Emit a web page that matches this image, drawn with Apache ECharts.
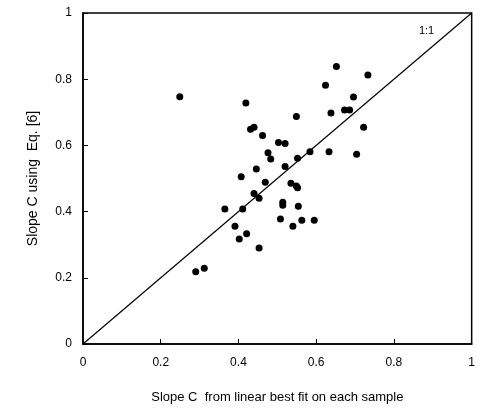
<!DOCTYPE html>
<html>
<head>
<meta charset="utf-8">
<script src="https://cdn.jsdelivr.net/npm/echarts@6/dist/echarts.min.js"></script>
<style>html,body{margin:0;padding:0;background:#fff;}#c{width:478px;height:417px;}</style>
</head>
<body>
<div id="c"></div>
<script>
const xValues = [0.249,0.419,0.431,0.440,0.462,0.476,0.652,0.733,0.624,0.696,0.638,0.673,0.686,0.549,0.722,0.503,0.520,0.483,0.552,0.584,0.633,0.704,0.446,0.407,0.469,0.440,0.453,0.365,0.411,0.391,0.421,0.402,0.453,0.520,0.535,0.549,0.552,0.514,0.514,0.554,0.508,0.563,0.595,0.540,0.290,0.312];
const yValues = [0.747,0.728,0.649,0.655,0.630,0.578,0.838,0.813,0.782,0.746,0.698,0.707,0.707,0.687,0.655,0.609,0.606,0.559,0.561,0.581,0.581,0.573,0.529,0.505,0.489,0.455,0.440,0.408,0.408,0.356,0.333,0.317,0.290,0.536,0.486,0.477,0.472,0.428,0.419,0.416,0.378,0.374,0.374,0.356,0.218,0.229];
const oneToOne = [[0,0],[1,1]];
const oneToOneLabel = "1:1";
const oneToOneLabelPos = [0.884, 0.946];
const xTitle = "Slope C  from linear best fit on each sample";
const yTitle = "Slope C using  Eq. [6]";

const points = xValues.map((x, i) => [x, yValues[i]]);
const font = "Liberation Sans, Arial, sans-serif";
const chart = echarts.init(document.getElementById('c'), null, {renderer: 'canvas'});
chart.setOption({
  animation: false,
  backgroundColor: '#fff',
  grid: {left: 83, top: 13, right: 6, bottom: 73, show: true, borderColor: '#000', borderWidth: 1.5, backgroundColor: 'transparent'},
  xAxis: {
    type: 'value', min: 0, max: 1, interval: 0.2,
    name: xTitle, nameLocation: 'middle', nameGap: 47,
    nameTextStyle: {fontFamily: font, fontSize: 13, color: '#000'},
    axisLine: {show: true, onZero: false, lineStyle: {color: '#000', width: 1.5}},
    axisTick: {show: true, inside: true, length: 5, lineStyle: {color: '#000'}},
    axisLabel: {fontFamily: font, fontSize: 12, color: '#000', margin: 13, formatter: v => String(+v.toFixed(1))},
    splitLine: {show: false}
  },
  yAxis: {
    type: 'value', min: 0, max: 1, interval: 0.2,
    name: yTitle, nameLocation: 'middle', nameGap: 43,
    nameTextStyle: {fontFamily: font, fontSize: 14, color: '#000'},
    axisLine: {show: true, onZero: false, lineStyle: {color: '#000', width: 1.5}},
    axisTick: {show: true, inside: true, length: 5, lineStyle: {color: '#000'}},
    axisLabel: {fontFamily: font, fontSize: 12, color: '#000', margin: 11, formatter: v => String(+v.toFixed(1))},
    splitLine: {show: false}
  },
  series: [
    {type: 'line', data: oneToOne, symbol: 'none', lineStyle: {color: '#000', width: 1.2}, silent: true},
    {type: 'scatter', data: points, symbol: 'circle', symbolSize: 7, itemStyle: {color: '#000', opacity: 1}},
    {type: 'scatter', data: [oneToOneLabelPos], symbolSize: 0, itemStyle: {opacity: 1},
     label: {show: true, formatter: oneToOneLabel, position: 'inside', fontFamily: font, fontSize: 11, color: '#000', opacity: 1}}
  ]
});
</script>
</body>
</html>
